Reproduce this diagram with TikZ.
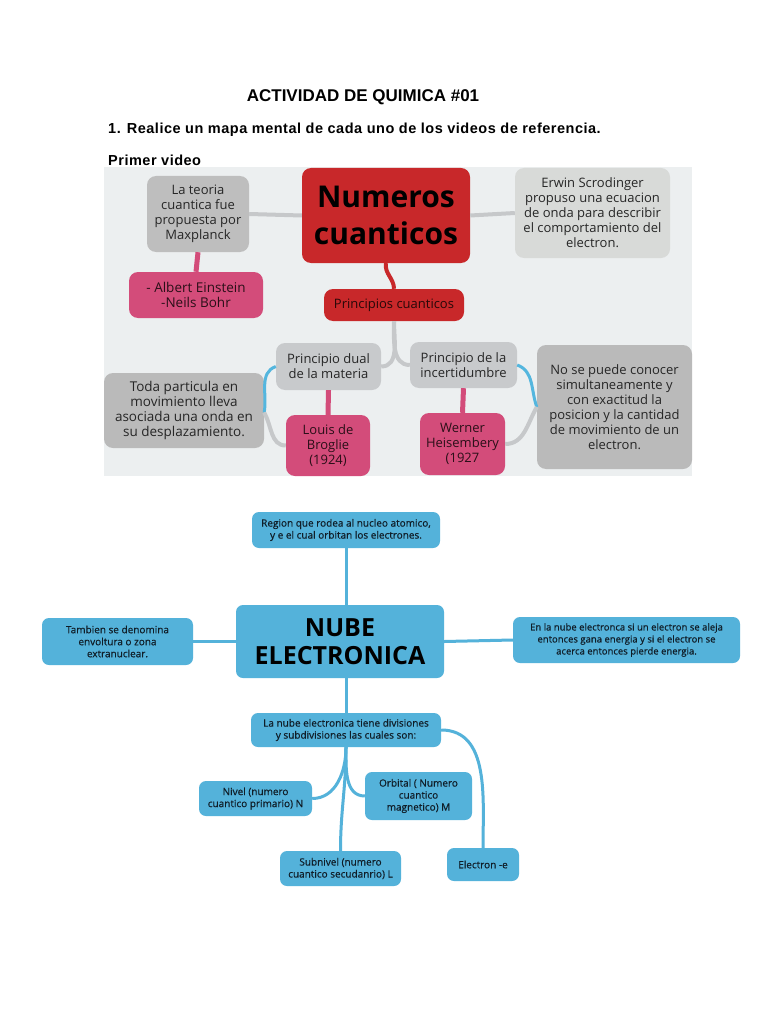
\documentclass[tikz,border=0pt]{standalone}
\usepackage{fontspec}
\setmainfont{Liberation Sans}
\newfontfamily\mapfont{Open Sans}
\newfontfamily\cloudfont[FakeBold=0.6]{Open Sans}
\definecolor{panelgray}{RGB}{236,239,240}
\definecolor{mapred}{RGB}{200,40,42}
\definecolor{mappink}{RGB}{211,76,122}
\definecolor{boxgray}{RGB}{190,190,190}
\definecolor{palegray}{RGB}{216,218,216}
\definecolor{softgray}{RGB}{200,202,204}
\definecolor{darkgray}{RGB}{186,186,186}
\definecolor{linkgray}{RGB}{198,200,202}
\definecolor{linkblue}{RGB}{84,182,222}
\definecolor{cloudblue}{RGB}{84,178,218}
\definecolor{inkblue}{RGB}{16,30,40}
\tikzset{
  topbox/.style={rounded corners=9pt, align=center, inner sep=2pt, text=black!85, font=\mapfont\fontsize{13}{15}\selectfont},
  cloudbox/.style={fill=cloudblue, rounded corners=7pt, align=center, inner sep=2pt, text=inkblue, font=\cloudfont\fontsize{10}{12}\selectfont},
  boxsize/.style 2 args={minimum width=#1, minimum height=#2},
  graylink/.style={draw=linkgray, line width=4pt},
  pinklink/.style={draw=mappink, line width=5pt},
  redlink/.style={draw=mapred, line width=4pt},
  bluelink/.style={draw=linkblue, line width=3pt},
  cloudlink/.style={draw=cloudblue, line width=3pt}
}
\begin{document}
\begin{tikzpicture}[x=1pt, y=-1pt]
            \useasboundingbox (0,0) rectangle (768,1024);
            \fill[white] (0,0) rectangle (768,1024);
            \node[font=\bfseries\fontsize{17}{20}\selectfont] (quimtitle) at (363, 97) {ACTIVIDAD DE QUIMICA \#01};
            \node[anchor=west, inner sep=0pt, font=\bfseries\fontsize{14.5}{17}\selectfont\addfontfeature{LetterSpace=3.5}] (task) at (108, 130) {1. Realice un mapa mental de cada uno de los videos de referencia.};
            \node[anchor=west, inner sep=0pt, font=\bfseries\fontsize{14.5}{17}\selectfont\addfontfeature{LetterSpace=3.5}] (firstvideo) at (108, 160) {Primer video};
            \fill[panelgray] (104, 167) rectangle (692, 476);
            \node[topbox, fill=mapred, boxsize={168pt}{95pt}, text=black, font=\mapfont\bfseries\fontsize{30}{37}\selectfont] (numeros) at (386, 215.5) {Numeros\\cuanticos};
            \node[topbox, fill=boxgray, boxsize={102pt}{76pt}] (maxplanck) at (198, 214) {La teoria\\cuantica fue\\propuesta por\\Maxplanck};
            \node[topbox, fill=mappink, boxsize={134pt}{46pt}, text=black!80!mappink, font=\mapfont\fontsize{13.5}{15}\selectfont] (einstein) at (196, 295) {- Albert Einstein\\-Neils Bohr};
            \node[topbox, fill=palegray, boxsize={155pt}{90pt}] (erwin) at (592.5, 213) {Erwin Scrodinger\\propuso una ecuacion\\de onda para describir\\el comportamiento del\\electron.};
            \node[topbox, fill=mapred, boxsize={140pt}{32pt}, text=black!80!mapred, font=\mapfont\fontsize{13}{15}\selectfont] (principios) at (394, 305) {Principios cuanticos};
            \node[topbox, fill=softgray, boxsize={105pt}{47pt}] (dual) at (328.5, 366.5) {Principio dual\\de la materia};
            \node[topbox, fill=softgray, boxsize={107pt}{46pt}] (incert) at (463.5, 365) {Principio de la\\incertidumbre};
            \node[topbox, fill=darkgray, boxsize={160pt}{75pt}, font=\mapfont\fontsize{13.5}{15}\selectfont] (toda) at (184, 410.5) {Toda particula en\\movimiento lleva\\asociada una onda en\\su desplazamiento.};
            \node[topbox, fill=mappink, boxsize={84pt}{61pt}, text=black!80!mappink] (broglie) at (328, 445.5) {Louis de\\Broglie\\(1924)};
            \node[topbox, fill=mappink, boxsize={85pt}{62pt}, text=black!80!mappink] (werner) at (462.5, 444) {Werner\\Heisembery\\(1927};
            \node[topbox, fill=darkgray, boxsize={155pt}{124pt}] (nosepuede) at (614.5, 407) {No se puede conocer\\simultaneamente y\\con exactitud la\\posicion y la cantidad\\de movimiento de un\\electron.};
            \draw[graylink] (maxplanck.east) -- (numeros.west);
            \draw[pinklink] (maxplanck.south) -- (einstein.north);
            \draw[graylink] (numeros.east) -- (erwin.west);
            \draw[redlink] (numeros.south) to[out=-100, in=90] (principios.north);
            \draw[graylink] (principios.south) to[out=-90, in=0] (dual.east);
            \draw[graylink] (principios.south) to[out=-90, in=180] (incert.west);
            \draw[bluelink] (dual.west) to[out=-160, in=80] ([yshift=-2pt]toda.east);
            \draw[graylink] ([yshift=-2pt]toda.east) to[out=-60, in=180] (broglie.west);
            \draw[pinklink] (dual.south) -- (broglie.north);
            \draw[bluelink] (incert.east) to[out=-20, in=110] (nosepuede.west);
            \draw[graylink] (werner.east) to[out=0, in=-120] (nosepuede.west);
            \draw[pinklink] (incert.south) -- (werner.north);
            \node[cloudbox, boxsize={188pt}{36pt}] (region) at (346, 530) {Region que rodea al nucleo atomico,\\y e el cual orbitan los electrones.};
            \node[cloudbox, boxsize={208pt}{73pt}, text=black, font=\mapfont\bfseries\fontsize{25}{28}\selectfont] (nube) at (340, 641.5) {NUBE\\ELECTRONICA};
            \node[cloudbox, boxsize={151pt}{47pt}] (tambien) at (117.5, 641.5) {Tambien se denomina\\envoltura o zona\\extranuclear.};
            \node[cloudbox, boxsize={227pt}{46pt}, font=\cloudfont\fontsize{9.5}{12}\selectfont] (ennube) at (626.5, 640) {En la nube electronca si un electron se aleja\\entonces gana energia y si el electron se\\acerca entonces pierde energia.};
            \node[cloudbox, boxsize={190pt}{34pt}] (lanube) at (346, 730) {La nube electronica tiene divisiones\\y subdivisiones las cuales son:};
            \node[cloudbox, boxsize={113pt}{35pt}] (nivel) at (255.5, 798.5) {Nivel (numero\\cuantico primario) N};
            \node[cloudbox, boxsize={107pt}{48pt}] (orbital) at (418.5, 796) {Orbital ( Numero\\cuantico\\magnetico) M};
            \node[cloudbox, boxsize={121pt}{35pt}] (subnivel) at (340.5, 868.5) {Subnivel (numero\\cuantico secudanrio) L};
            \node[cloudbox, boxsize={72pt}{33pt}] (electron) at (483, 864.5) {Electron -e};
            \draw[cloudlink] (region.south) -- (region.south |- nube.north);
            \draw[cloudlink] (tambien.east) -- (nube.west);
            \draw[cloudlink] (nube.east) -- (ennube.west);
            \draw[cloudlink] (lanube.north |- nube.south) -- (lanube.north);
            \draw[cloudlink] (lanube.south) to[out=-90, in=0] (nivel.east);
            \draw[cloudlink] (lanube.south) to[out=-90, in=90] (subnivel.north);
            \draw[cloudlink] (lanube.south) to[out=-90, in=180] (orbital.west);
            \draw[cloudlink] (lanube.east) to[out=0, in=90] (electron.north);
\end{tikzpicture}
\end{document}
